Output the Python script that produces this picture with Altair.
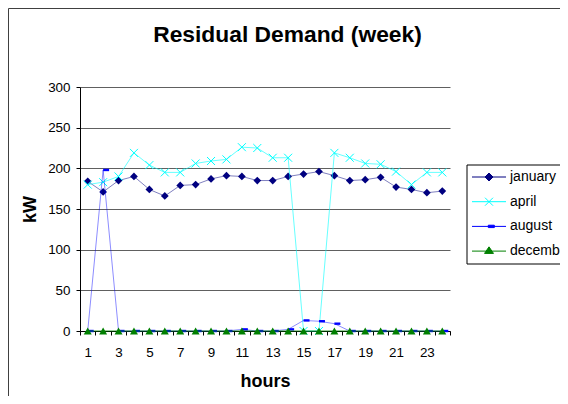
import altair as alt
import pandas as pd

hours = [1, 2, 3, 4, 5, 6, 7, 8, 9, 10, 11, 12, 13, 14, 15, 16, 17, 18, 19, 20, 21, 22, 23, 24]
january = [184, 171, 185, 190, 174, 166, 179, 180, 187, 191, 190, 185,
           185, 190, 193, 196, 191, 185, 186, 189, 177, 174, 170, 172]
april = [180, 183, 190, 219, 204, 195, 195, 206, 209, 211, 226, 225,
         213, 213, 0, 0, 219, 213, 206, 205, 196, 180, 195, 195]
august = [0, 198, 0, 0, 0, 0, 0, 0, 0, 0, 2, 0,
          0, 2, 13, 12, 9, 0, 0, 0, 0, 0, 0, 0]
december = [0, 0, 0, 0, 0, 0, 0, 0, 0, 0, 0, 0,
            0, 0, 0, 0, 0, 0, 0, 0, 0, 0, 0, 0]

series_names = ["january", "april", "august", "december"]
series_values = [january, april, august, december]
series_colors = ["#000080", "#00FFFF", "#0000FF", "#008000"]
y_ticks = [0, 50, 100, 150, 200, 250, 300]

line_opacity = [0.5, 0.6, 0.45, 0.8]
marker_shapes = ["diamond", "M-1,-1L1,1M-1,1L1,-1", "M0,-0.4H2V0.4H0Z", "triangle-up"]
marker_filled = [True, False, True, True]
marker_sizes = [60, 64, 36, 64]
# legend glyphs: a line segment with the series marker in its middle
legend_shapes = [
    "M-1,0H3.86M1.43,-0.57L2,0L1.43,0.57L0.86,0Z",
    "M-1,0H3.86M0.86,-0.57L2,0.57M0.86,0.57L2,-0.57",
    "M-1,0H3.86M1.33,-0.17H2.19V0.17H1.33Z",
    "M-1,0H3.86M1.43,-0.61L2.07,0.33L0.79,0.33Z",
]

rows = []
for name, vals in zip(series_names, series_values):
    for h, v in zip(hours, vals):
        rows.append({"hour": h, "kW": v, "series": name})
df = pd.DataFrame(rows)

FONT = "Liberation Sans"

x_enc = alt.X(
    "hour:O",
    bandPosition=0.5,
    scale=alt.Scale(type="band", paddingInner=0, paddingOuter=0),
    axis=alt.Axis(
        title="hours", tickBand="extent", labelAngle=0,
        labelExpr="datum.value % 2 == 1 ? datum.label : ''",
        domainColor="#000000", tickColor="#000000", tickSize=4,
        labelPadding=10, labelFontSize=13.4, labelColor="#000000",
        titleFontSize=18, titleFontWeight="bold", titlePadding=14,
        titleColor="#000000", grid=False,
    ),
)
y_enc = alt.Y(
    "kW:Q",
    scale=alt.Scale(domain=[0, 300]),
    axis=alt.Axis(
        title="kW", values=y_ticks, grid=True, gridColor="#606060", gridWidth=1,
        domainColor="#000000", tickColor="#000000", tickSize=4,
        labelPadding=6, labelFontSize=13.4, labelColor="#000000",
        titleFontSize=18, titleFontWeight="bold", titleColor="#000000",
        titleAngle=270, titleX=-45, titleY=122, titleBaseline="alphabetic",
        titleAlign="center",
    ),
)

base = alt.Chart(df).encode(x=x_enc, y=y_enc)

frame = alt.Chart(pd.DataFrame({"k": [0]})).mark_rect(
    filled=False, color="#404040", strokeWidth=1
).encode(x=alt.value(-71.5), x2=alt.value(486), y=alt.value(-78.5), y2=alt.value(316))

layers = [frame]
for name, color, op, shp, fil, sz in zip(series_names, series_colors, line_opacity,
                                         marker_shapes, marker_filled, marker_sizes):
    sub = base.transform_filter(alt.datum.series == name)
    layers.append(sub.mark_line(color=color, strokeWidth=1, opacity=op))
    layers.append(sub.mark_point(shape=shp, filled=fil, color=color, size=sz,
                                 opacity=1, strokeWidth=1))

leg = alt.Legend(
    title=None, orient="none", legendX=386.5, legendY=77.5, padding=5,
    strokeColor="#000000", fillColor="#FFFFFF", symbolSize=196,
    symbolStrokeWidth=1, labelFontSize=14, labelFont=FONT, labelOffset=23.5,
    rowPadding=9.7, labelColor="#000000", symbolOpacity=1,
)
legend_layer = base.transform_filter("false").mark_point(opacity=1, strokeWidth=1).encode(
    fill=alt.Fill("series:N", scale=alt.Scale(domain=series_names, range=series_colors), legend=leg),
    stroke=alt.Stroke("series:N", scale=alt.Scale(domain=series_names, range=series_colors), legend=leg),
    shape=alt.Shape("series:N", scale=alt.Scale(domain=series_names, range=legend_shapes), legend=leg),
)
layers.append(legend_layer)

chart = alt.layer(*layers).properties(
    width=370, height=244,
    autosize=alt.AutoSizeParams(type="none"),
    padding={"left": 72, "top": 79, "right": 110, "bottom": 65},
    background="#FFFFFF",
    title=alt.TitleParams(
        "Residual Demand (week)", fontSize=22.8, fontWeight="bold", font=FONT,
        anchor="middle", frame="group", offset=0, dy=39, dx=22.5, color="#000000",
    ),
).configure_view(stroke="transparent").configure_axis(
    labelFont=FONT, titleFont=FONT
)

chart.save("out.html", embed_options={"renderer": "svg", "actions": False})
